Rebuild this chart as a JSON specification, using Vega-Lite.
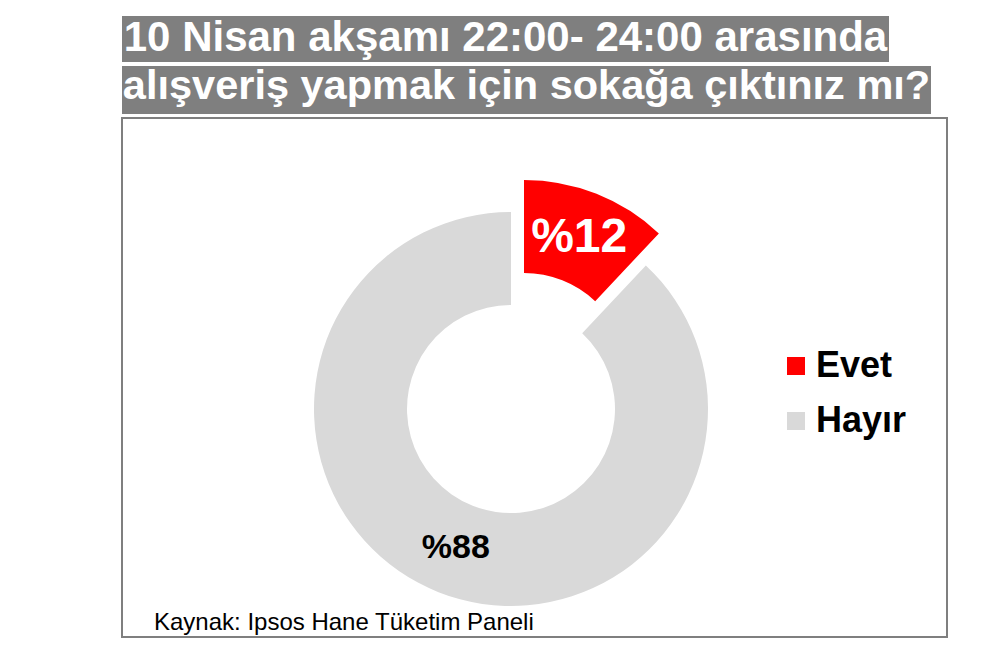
{
  "$schema": "https://vega.github.io/schema/vega-lite/v6.json",
  "background": "white",
  "padding": {"left": 121, "top": 16, "right": 0, "bottom": 0},
  "bounds": "flush",
  "spacing": 4,
  "config": {"font": "Liberation Sans", "view": {"stroke": null}},
  "resolve": {"scale": {"color": "independent"}, "legend": {"color": "independent"}},
  "vconcat": [
    {
      "width": 767,
      "height": 46,
      "view": {"fill": "#7f7f7f", "stroke": null},
      "data": {"values": [{"satir": "10 Nisan akşamı 22:00- 24:00 arasında"}]},
      "mark": {"type": "text", "font": "Liberation Sans", "fontWeight": "bold", "fontSize": 42, "fill": "white", "dy": -1},
      "encoding": {"text": {"field": "satir", "type": "nominal"}}
    },
    {
      "width": 809,
      "height": 48,
      "view": {"fill": "#7f7f7f", "stroke": null},
      "data": {"values": [{"satir": "alışveriş yapmak için sokağa çıktınız mı?"}]},
      "mark": {"type": "text", "font": "Liberation Sans", "fontWeight": "bold", "fontSize": 41.5, "fill": "white", "dy": -3},
      "encoding": {"text": {"field": "satir", "type": "nominal"}}
    },
    {
      "width": 825,
      "height": 519,
      "view": {"stroke": "#7f7f7f", "strokeWidth": 2, "fill": null},
      "title": {
        "text": "Kaynak: Ipsos Hane Tüketim Paneli",
        "orient": "bottom",
        "anchor": "start",
        "frame": "group",
        "offset": 0,
        "dx": 32,
        "dy": -7,
        "baseline": "alphabetic",
        "fontSize": 24,
        "fontWeight": "normal",
        "color": "black",
        "font": "Liberation Sans"
      },
      "data": {"values": [
        {"cevap": "Evet", "oran": 12, "etiket": "%12"},
        {"cevap": "Hayır", "oran": 88, "etiket": "%88"}
      ]},
      "encoding": {
        "theta": {"field": "oran", "type": "quantitative", "stack": true},
        "order": {"field": "cevap", "type": "ordinal", "sort": "ascending"}
      },
      "layer": [
        {
          "mark": {"type": "arc", "outerRadius": 197, "innerRadius": 104, "xOffset": -23.5, "yOffset": 31.5},
          "encoding": {
            "color": {
              "field": "cevap", "type": "nominal",
              "scale": {"domain": ["Evet", "Hayır"], "range": ["#ff0000", "#d9d9d9"]},
              "legend": {
                "title": null, "orient": "none", "legendX": 656, "legendY": 230,
                "symbolType": "square", "symbolSize": 324, "symbolStrokeWidth": 0, "symbolOpacity": 1,
                "labelFontSize": 36, "labelFontWeight": "bold", "labelColor": "black", "labelFont": "Liberation Sans",
                "labelOffset": 2, "rowPadding": 19, "padding": 0
              }
            },
            "opacity": {"condition": {"test": "datum.cevap === 'Hayır'", "value": 1}, "value": 0}
          }
        },
        {
          "mark": {"type": "arc", "outerRadius": 197, "innerRadius": 104, "xOffset": -10.5, "yOffset": -0.5},
          "encoding": {
            "color": {"field": "cevap", "type": "nominal"},
            "opacity": {"condition": {"test": "datum.cevap === 'Evet'", "value": 1}, "value": 0}
          }
        },
        {
          "mark": {"type": "text", "radius": 150, "xOffset": -10.5, "yOffset": -0.5, "fontSize": 48, "fontWeight": "bold", "fill": "white", "font": "Liberation Sans"},
          "encoding": {
            "text": {"field": "etiket", "type": "nominal"},
            "opacity": {"condition": {"test": "datum.cevap === 'Evet'", "value": 1}, "value": 0}
          }
        },
        {
          "mark": {"type": "text", "radius": 150, "xOffset": -23.5, "yOffset": 31.5, "fontSize": 34, "fontWeight": "bold", "fill": "black", "font": "Liberation Sans"},
          "encoding": {
            "text": {"field": "etiket", "type": "nominal"},
            "opacity": {"condition": {"test": "datum.cevap === 'Hayır'", "value": 1}, "value": 0}
          }
        }
      ]
    }
  ]
}
